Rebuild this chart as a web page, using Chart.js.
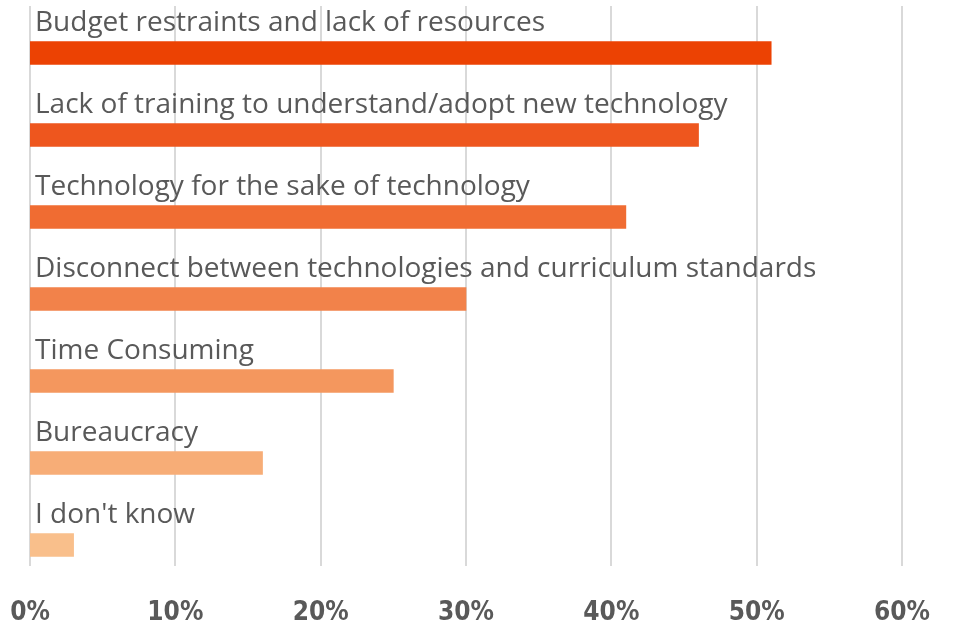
<!DOCTYPE html>
<html>
<head>
<meta charset="utf-8">
<script src="https://cdn.jsdelivr.net/npm/chart.js@4.4.1/dist/chart.umd.min.js"></script>
<style>
  html, body { margin: 0; padding: 0; background: #fff; }
  #wrap { width: 957px; height: 621px; position: relative; }
</style>
</head>
<body>
<div id="wrap"><canvas id="barChart"></canvas></div>
<script>
// Donnees du graphique
const categories = [
  'Budget restraints and lack of resources',
  'Lack of training to understand/adopt new technology',
  'Technology for the sake of technology',
  'Disconnect between technologies and curriculum standards',
  'Time Consuming',
  'Bureaucracy',
  "I don't know"
];
const values = [51, 46, 41, 30, 25, 16, 3];
const barColors = ['#EC4203', '#EE561E', '#F06C32', '#F2824A', '#F4975E', '#F7AD77', '#F9BF8B'];
const tickValues = [0, 10, 20, 30, 40, 50, 60];

// lignes verticales de la grille (plus courtes que la zone du graphique)
const gridPlugin = {
  id: 'shortGrid',
  beforeDatasetsDraw(chart) {
    const ctx = chart.ctx;
    const x = chart.scales.x;
    ctx.save();
    ctx.strokeStyle = '#d9d9d9';
    ctx.lineWidth = 2;
    tickValues.forEach(v => {
      const px = Math.round(x.getPixelForValue(v));
      ctx.beginPath();
      ctx.moveTo(px, 6);
      ctx.lineTo(px, 566);
      ctx.stroke();
    });
    ctx.restore();
  }
};

// libelles au-dessus de chaque barre
const labelPlugin = {
  id: 'barLabels',
  afterDatasetsDraw(chart) {
    const ctx = chart.ctx;
    const meta = chart.getDatasetMeta(0);
    ctx.save();
    ctx.fillStyle = '#595959';
    ctx.font = '28px "Open Sans"';
    ctx.textBaseline = 'alphabetic';
    meta.data.forEach((bar, i) => {
      ctx.fillText(categories[i], 35, bar.y - bar.height / 2 - 11);
    });
    ctx.restore();
  }
};

new Chart(document.getElementById('barChart'), {
  type: 'bar',
  data: {
    labels: categories,
    datasets: [{
      data: values,
      backgroundColor: barColors,
      borderWidth: 0,
      barThickness: 23
    }]
  },
  options: {
    indexAxis: 'y',
    responsive: true,
    maintainAspectRatio: false,
    animation: false,
    layout: { padding: { left: 30, right: 55, top: 12, bottom: 0 } },
    plugins: {
      legend: { display: false },
      tooltip: { enabled: false }
    },
    scales: {
      x: {
        min: 0,
        max: 60,
        grid: { display: false },
        border: { display: false },
        afterFit: scale => { scale.height = 35; },
        ticks: {
          stepSize: 10,
          padding: 4,
          color: '#595959',
          font: { family: '"DejaVu Sans Condensed", "Liberation Sans Narrow", "DejaVu Sans", sans-serif', size: 26, weight: 'bold' },
          callback: v => v + '%'
        }
      },
      y: {
        display: false
      }
    }
  },
  plugins: [gridPlugin, labelPlugin]
});
</script>
</body>
</html>
